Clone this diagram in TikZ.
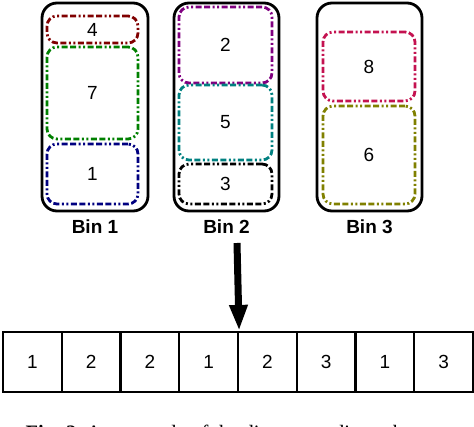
\documentclass[tikz,border=0pt]{standalone}
\usepackage{fontspec}
\setmainfont{Liberation Sans}
\newfontfamily\capfont{Liberation Serif}
\usetikzlibrary{arrows.meta}
\definecolor{cA}{RGB}{128,0,0}
\definecolor{cB}{RGB}{0,128,0}
\definecolor{cC}{RGB}{0,0,128}
\definecolor{cD}{RGB}{128,0,128}
\definecolor{cE}{RGB}{0,128,128}
\definecolor{cF}{RGB}{0,0,0}
\definecolor{cG}{RGB}{196,18,80}
\definecolor{cH}{RGB}{128,128,0}
\tikzset{
  binbox/.style={draw=black, line width=2.8pt, rounded corners=15pt, inner sep=0pt},
  itembox/.style={line width=2.8pt, rounded corners=10pt, inner sep=0pt,
     dash pattern=on 6pt off 2.5pt on 6pt off 2.5pt on 2pt off 2.5pt on 2pt off 2.5pt,
     font=\fontsize{19}{19}\selectfont},
  binlabel/.style={font=\fontsize{19}{19}\selectfont\bfseries, inner sep=0pt},
  cell/.style={draw=black, line width=2.2pt, minimum width=58.75pt, minimum height=60pt,
     inner sep=0pt, font=\fontsize{19}{19}\selectfont},
}
\begin{document}
\begin{tikzpicture}[x=1pt,y=-1pt]
\useasboundingbox (0,0) rectangle (474,426);
\clip (0,0) rectangle (474,426);
% bins
\node[binbox, minimum width=106pt, minimum height=208pt] (bin1) at (95,107) {};
\node[binbox, minimum width=105pt, minimum height=208pt] (bin2) at (226.5,107) {};
\node[binbox, minimum width=105pt, minimum height=208pt] (bin3) at (369.5,107) {};
% items bin 1
\node[itembox, draw=cA, minimum width=91pt, minimum height=27pt] (i4) at (92.5,29.5) {4};
\node[itembox, draw=cB, minimum width=91pt, minimum height=92pt] (i7) at (92.5,93) {7};
\node[itembox, draw=cC, minimum width=91pt, minimum height=60pt] (i1) at (92.5,174) {1};
% items bin 2
\node[itembox, draw=cD, minimum width=93pt, minimum height=76pt] (i2) at (225.5,45) {2};
\node[itembox, draw=cE, minimum width=93pt, minimum height=75pt] (i5) at (225.5,122.5) {5};
\node[itembox, draw=cF, minimum width=93pt, minimum height=40pt] (i3) at (225.5,184) {3};
% items bin 3
\node[itembox, draw=cG, minimum width=92pt, minimum height=69pt] (i8) at (369,66.5) {8};
\node[itembox, draw=cH, minimum width=92pt, minimum height=98pt] (i6) at (369,155) {6};
% labels
\node[binlabel] (l1) at (95,227) {Bin 1};
\node[binlabel] (l2) at (226.5,227) {Bin 2};
\node[binlabel] (l3) at (369.5,227) {Bin 3};
% array
\foreach \v [count=\k] in {1,2,2,1,2,3,1,3} {
  \node[cell] (c\k) at ({3+58.75*(\k-0.5)},362) {\v};
}
% arrow
\coordinate (atop) at (237,243);
\draw[line width=7pt, -{Triangle[width=17pt,length=26pt]}] (atop) -- (c4.north east);
% caption
\node[anchor=base, inner sep=0pt, font=\capfont\fontsize{20.5}{20.5}\selectfont] (cap) at (234,439)
  {\textbf{Fig. 2.}\ An example of the direct encoding scheme.};
\end{tikzpicture}
\end{document}
